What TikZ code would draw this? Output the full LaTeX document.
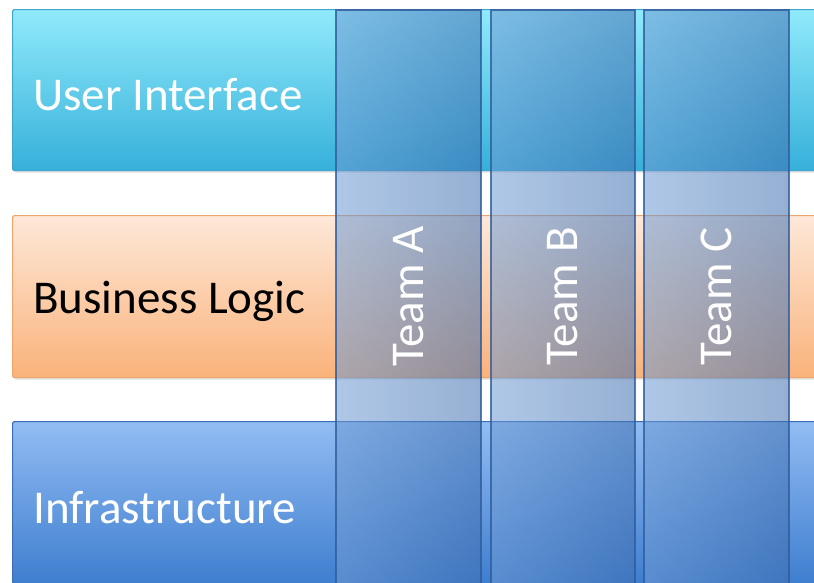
\documentclass[tikz,border=0pt]{standalone}
\usepackage{fontspec}
\setmainfont{Carlito}
\usetikzlibrary{shadows}
\definecolor{uitop}{HTML}{90EAFB}
\definecolor{uibot}{HTML}{36B0DA}
\definecolor{uiedge}{HTML}{3FA6CC}
\definecolor{bltop}{HTML}{FDE8D9}
\definecolor{blbot}{HTML}{FAB27A}
\definecolor{bledge}{HTML}{EEA56C}
\definecolor{intop}{HTML}{92BCF3}
\definecolor{inbot}{HTML}{3E7ECF}
\definecolor{inedge}{HTML}{3A6DB5}
\definecolor{colL}{HTML}{6E9AD2}
\definecolor{colR}{HTML}{3F6FB0}
\definecolor{coledge}{HTML}{2F5C9C}
\tikzset{
  band/.style={rectangle, rounded corners=2pt, line width=1.2pt, anchor=north west, inner sep=0pt,
    drop shadow={shadow xshift=1.5pt, shadow yshift=-2pt, opacity=0.25}},
  bandtext/.style={anchor=west, font=\fontsize{47}{50}\selectfont, inner sep=0pt},
  teamcol/.style={rectangle, anchor=north west, inner sep=0pt, minimum width=145pt, minimum height=580pt,
    left color=colL, right color=colR, fill opacity=0.55, draw=coledge, draw opacity=0.8, line width=1.5pt},
  teamtext/.style={rotate=90, text=white, font=\fontsize{47}{50}\selectfont, inner sep=0pt}
}
\begin{document}
\begin{tikzpicture}[x=1pt,y=-1pt]
\useasboundingbox (0,0) rectangle (814,582);
\clip (0,0) rectangle (814,582);
\node[band, minimum width=820pt, minimum height=161pt, top color=uitop, bottom color=uibot, draw=uiedge] (ui) at (12,9) {};
\node[band, minimum width=820pt, minimum height=162pt, top color=bltop, bottom color=blbot, draw=bledge] (bl) at (12,215) {};
\node[band, minimum width=820pt, minimum height=162pt, top color=intop, bottom color=inbot, draw=inedge] (inf) at (12,421) {};
\node[bandtext, text=white] (uit) at ([xshift=21pt,yshift=-4pt]ui.west) {User Interface};
\node[bandtext, text=black] (blt) at ([xshift=21pt,yshift=-5pt]bl.west) {Business Logic};
\node[bandtext, text=white] (inft) at ([xshift=21pt,yshift=-5pt]inf.west) {Infrastructure};
\node[teamcol, minimum width=145pt] (ta) at (335,9) {};
\node[teamcol, minimum width=144pt] (tb) at (490,9) {};
\node[teamcol, minimum width=145pt] (tc) at (643,9) {};
\node[teamtext] (tat) at (ta.center |- bl.center) {Team A};
\node[teamtext] (tbt) at (tb.center |- bl.center) {Team B};
\node[teamtext] (tct) at (tc.center |- bl.center) {Team C};
\end{tikzpicture}
\end{document}
